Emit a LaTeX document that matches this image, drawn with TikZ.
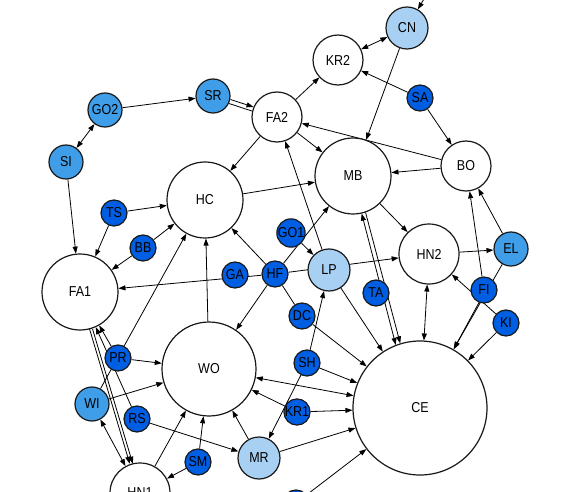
\documentclass[tikz,border=0pt]{standalone}
\usepackage{fontspec}
\setmainfont{Liberation Sans}
\usetikzlibrary{arrows.meta,backgrounds}
\definecolor{dk}{RGB}{0,94,226}
\definecolor{md}{RGB}{64,158,232}
\definecolor{lt}{RGB}{168,208,242}
\definecolor{bd}{RGB}{25,25,25}
\newcommand{\mylbl}[1]{\scalebox{1}[1.15]{#1}}
\tikzset{
  vtx/.style={circle, draw=bd, line width=1.2pt, inner sep=0pt, fill=white,
    font=\fontsize{12.5}{12.5}\selectfont},
  s13/.style={vtx, minimum size=26pt, fill=dk},
  s17/.style={vtx, minimum size=34pt, fill=md},
  s21/.style={vtx, minimum size=42pt, fill=lt},
  w25/.style={vtx, minimum size=50pt},
  w30/.style={vtx, minimum size=60pt},
  w38/.style={vtx, minimum size=76pt},
  w47/.style={vtx, minimum size=94pt},
  w67/.style={vtx, minimum size=134pt},
  arr/.style={-{Triangle[length=7pt,width=5pt]}, line width=0.8pt},
  barr/.style={{Triangle[length=7pt,width=5pt]}-{Triangle[length=7pt,width=5pt]}, line width=0.8pt},
  pl/.style={line width=0.8pt},
  offa/.style={transform canvas={shift={(#1)}}},
}
\begin{document}
\begin{tikzpicture}[x=1pt,y=-1pt]
\useasboundingbox (0,0) rectangle (568,492);
\node[s21] (CN) at (407,28) {\mylbl{CN}};
\node[w25] (KR2) at (338,60) {\mylbl{KR2}};
\node[s13] (SA) at (420,98) {\mylbl{SA}};
\node[s17] (SR) at (213,96) {\mylbl{SR}};
\node[s17] (GO2) at (105,110) {\mylbl{GO2}};
\node[w25] (FA2) at (277,117) {\mylbl{FA2}};
\node[s17] (SI) at (66,162) {\mylbl{SI}};
\node[w25] (BO) at (466,166) {\mylbl{BO}};
\node[w38] (MB) at (353,176) {\mylbl{MB}};
\node[w38] (HC) at (205,200) {\mylbl{HC}};
\node[s13] (TS) at (114,213) {\mylbl{TS}};
\node[s13] (GO1) at (291,233) {\mylbl{GO1}};
\node[s13] (BB) at (143,248) {\mylbl{BB}};
\node[w30] (HN2) at (429,254) {\mylbl{HN2}};
\node[s17] (EL) at (511,249) {\mylbl{EL}};
\node[s21] (LP) at (329,270) {\mylbl{LP}};
\node[s13] (HF) at (275,274) {\mylbl{HF}};
\node[s13] (GA) at (235,275) {\mylbl{GA}};
\node[w38] (FA1) at (80,292) {\mylbl{FA1}};
\node[s13] (FI) at (484,290) {\mylbl{FI}};
\node[s13] (TA) at (376,293) {\mylbl{TA}};
\node[s13] (DC) at (302,316) {\mylbl{DC}};
\node[s13] (KI) at (506,323) {\mylbl{KI}};
\node[s13] (PR) at (118,358) {\mylbl{PR}};
\node[w47] (WO) at (209,369) {\mylbl{WO}};
\node[s13] (SH) at (307,363) {\mylbl{SH}};
\node[s17] (WI) at (92,404) {\mylbl{WI}};
\node[w67] (CE) at (420,408) {\mylbl{CE}};
\node[s13] (RS) at (137,419) {\mylbl{RS}};
\node[s13] (KR1) at (297,412) {\mylbl{KR1}};
\node[s21] (MR) at (259,458) {\mylbl{MR}};
\node[s13] (SM) at (198,462) {\mylbl{SM}};
\node[w30] (HN1) at (140,493) {\mylbl{HN1}};
\node[s13] (BOT) at (296,503) {};
\coordinate (CNTOP) at (428,-8);
\begin{scope}[on background layer]
\draw[arr] (CNTOP) -- (CN);
\draw[barr] (CN) -- (KR2);
\draw[arr] (CN) -- (MB);
\draw[arr] (SA) -- (KR2);
\draw[arr] (SA) -- (BO);
\draw[barr] (GO2) -- (SI);
\draw[arr] (GO2) -- (SR);
\draw[arr, offa={0.8pt,2pt}] (SR) -- (FA2);
\draw[pl, offa={-0.8pt,-2pt}] (SR) -- (FA2);
\draw[arr] (FA2) -- (KR2);
\draw[arr] (FA2) -- (HC);
\draw[arr] (FA2) -- (MB);
\draw[arr] (BO) -- (FA2);
\draw[arr] (BO) -- (MB);
\draw[arr] (LP) -- (FA2);
\draw[arr] (HC) -- (MB);
\draw[arr] (MB) -- (HN2);
\draw[barr] (MB.-77) -- (CE.111);
\draw[arr] (MB.-71) -- (CE.107);
\draw[arr] (SI) -- (FA1);
\draw[arr] (TS) -- (HC);
\draw[arr] (TS) -- (FA1);
\draw[arr] (BB) -- (HC);
\draw[arr] (BB) -- (FA1);
\draw[arr] (HF) -- (FA1);
\draw[arr] (HF) -- (HC);
\draw[arr] (HF) -- (WO);
\draw[arr] (HF) -- (MB);
\draw[arr] (HF) -- (HN2);
\draw[pl] (HF) -- (DC);
\draw[arr] (DC) -- (CE);
\draw[arr] (GO1) -- (LP);
\draw[arr] (LP) -- (CE);
\draw[arr] (SH) -- (LP);
\draw[arr] (SH) -- (CE);
\draw[arr] (SH) -- (MR);
\draw[barr] (WO) -- (CE);
\draw[arr] (KR1) -- (WO);
\draw[arr] (KR1) -- (CE);
\draw[arr] (MR) -- (WO);
\draw[arr] (MR) -- (CE);
\draw[arr] (BOT) -- (CE);
\draw[arr] (SM) -- (WO);
\draw[arr] (SM) -- (HN1);
\draw[arr] (RS) -- (MR);
\draw[arr] (RS) -- (FA1);
\draw[arr] (PR) -- (WO);
\draw[arr] (PR) -- (FA1);
\draw[arr] (WI) -- (HC);
\draw[arr] (WI) -- (WO);
\draw[barr] (WI) -- (HN1);
\draw[arr, offa={-1.5pt,0pt}] (FA1) -- (HN1);
\draw[arr, offa={1.5pt,0pt}] (FA1) -- (HN1);
\draw[arr] (HN1) -- (WO);
\draw[arr] (WO) -- (HC);
\draw[arr] (FI) -- (BO);
\draw[arr] (EL) -- (BO);
\draw[arr] (HN2) -- (EL);
\draw[arr] (EL) -- (CE);
\draw[arr, offa={1.8pt,0pt}] (FI) -- (CE);
\draw[arr] (KI) -- (HN2);
\draw[arr] (KI) -- (CE);
\draw[barr] (HN2) -- (CE);
\end{scope}
\end{tikzpicture}
\end{document}
